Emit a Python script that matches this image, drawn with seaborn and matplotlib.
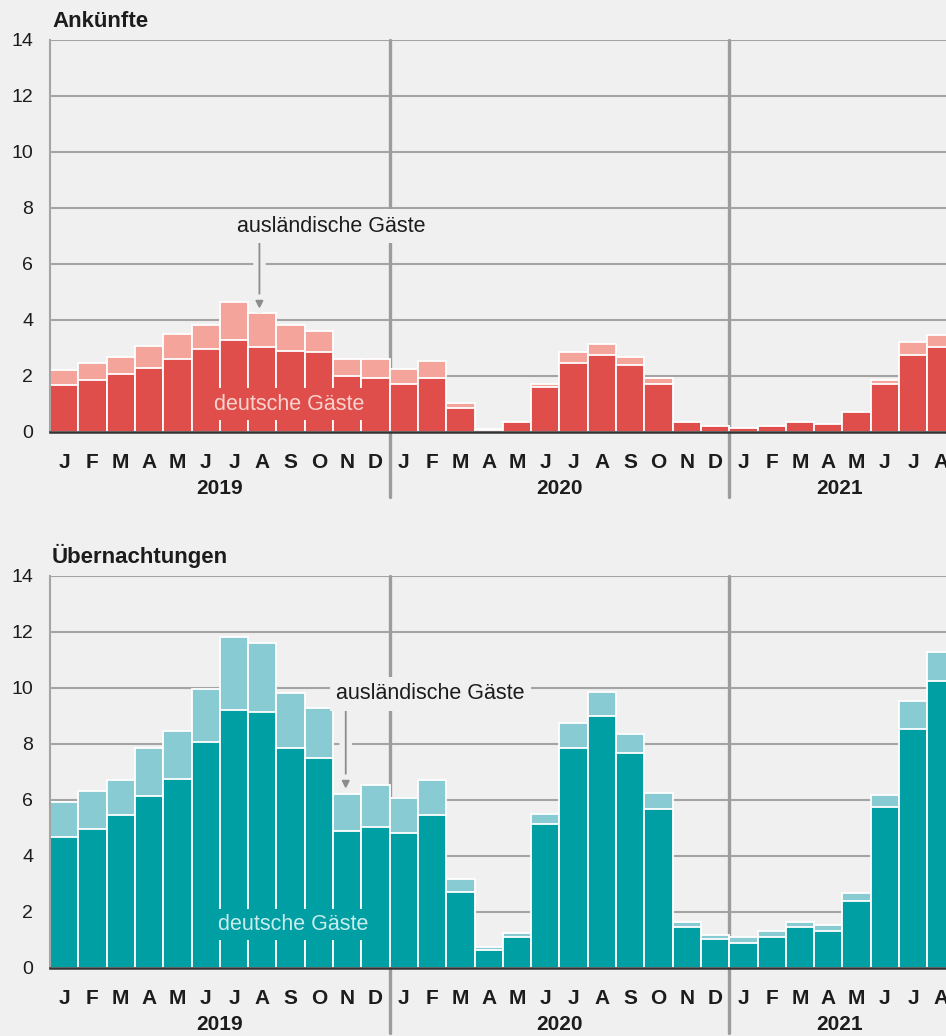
"""
Ankünfte und Übernachtungen 2019-2021, deutsche und ausländische Gäste (Mio.).
"""

import matplotlib.patheffects as pe
import matplotlib.pyplot as plt
import numpy as np
import pandas as pd
import seaborn as sns

MONTHS = list('JFMAMJJASOND') * 2 + list('JFMAMJJA')
YEARS = ['2019', '2020', '2021']

# Ankünfte in Mio.
ARR_DE = [1.67, 1.87, 2.07, 2.28, 2.61, 2.96, 3.29, 3.02, 2.88, 2.84, 2.00, 1.93,
          1.72, 1.93, 0.85, 0.06, 0.35, 1.59, 2.47, 2.74, 2.40, 1.72, 0.34, 0.20,
          0.15, 0.21, 0.35, 0.28, 0.70, 1.72, 2.74, 3.02]
ARR_TOTAL = [2.20, 2.47, 2.67, 3.08, 3.49, 3.82, 4.64, 4.24, 3.82, 3.62, 2.60, 2.60,
             2.26, 2.53, 1.05, 0.09, 0.36, 1.72, 2.87, 3.15, 2.67, 1.92, 0.36, 0.22,
             0.16, 0.22, 0.36, 0.29, 0.71, 1.86, 3.22, 3.48]

# Übernachtungen in Mio.
NIGHT_DE = [4.69, 4.98, 5.45, 6.13, 6.75, 8.06, 9.22, 9.14, 7.86, 7.51, 4.90, 5.04,
            4.82, 5.45, 2.71, 0.63, 1.10, 5.15, 7.84, 9.00, 7.68, 5.69, 1.45, 1.05,
            0.91, 1.10, 1.45, 1.32, 2.41, 5.76, 8.52, 10.24]
NIGHT_TOTAL = [5.93, 6.33, 6.73, 7.85, 8.46, 9.96, 11.81, 11.60, 9.83, 9.28, 6.20, 6.53,
               6.06, 6.73, 3.18, 0.75, 1.25, 5.49, 8.76, 9.87, 8.36, 6.24, 1.65, 1.18,
               1.10, 1.31, 1.65, 1.52, 2.67, 6.18, 9.52, 11.30]

BG = '#f0f0f0'
GRID = '#a4a4a4'
DIVIDER = '#9c9c9c'
TEXT = '#1c1c1c'


def draw_panel(ax, de, total, dark, light, inner_color,
               de_pos, foreign_pos, arrow_x, arrow_from, arrow_to):
    """Stacked bars (total behind, domestic in front) plus labels."""
    df = pd.DataFrame({'idx': np.arange(len(de)), 'de': de, 'total': total})

    sns.barplot(data=df, x='idx', y='total', color=light, saturation=1,
                width=1.0, edgecolor='white', linewidth=1.3, errorbar=None, ax=ax)
    sns.barplot(data=df, x='idx', y='de', color=dark, saturation=1,
                width=1.0, edgecolor='white', linewidth=1.3, errorbar=None, ax=ax)

    ax.set_facecolor(BG)
    ax.set_xlim(-0.5, 31.16)
    ax.set_ylim(0, 14)
    ax.set_yticks(range(0, 15, 2))
    ax.yaxis.grid(True, color=GRID, lw=1.5)
    ax.xaxis.grid(False)
    ax.set_axisbelow(True)
    ax.set_xlabel('')
    ax.set_ylabel('')

    for side in ['top', 'right']:
        ax.spines[side].set_visible(False)
    ax.spines['left'].set_color(GRID)
    ax.spines['left'].set_linewidth(1.5)
    ax.spines['bottom'].set_color('#333333')
    ax.spines['bottom'].set_linewidth(1.8)
    ax.spines['bottom'].set_zorder(3)

    ax.tick_params(axis='y', length=7, width=1.5, color=GRID, pad=5,
                   labelsize=14, labelcolor=TEXT)
    ax.set_xticks(range(len(MONTHS)))
    ax.set_xticklabels(MONTHS, fontweight='bold', fontsize=15, color=TEXT)
    ax.tick_params(axis='x', length=0, pad=15)

    # year dividers reach down below the month letters
    for x in [11.5, 23.5]:
        ax.axvline(x, ymin=-0.165, ymax=1, color=DIVIDER, lw=2.4,
                   clip_on=False, zorder=0.8)

    for year, xc in zip(YEARS, [5.5, 17.5, 27.4]):
        ax.annotate(year, xy=(xc, 0), xycoords=('data', 'axes fraction'),
                    xytext=(0, -34), textcoords='offset points',
                    ha='center', va='top', fontsize=15, fontweight='bold',
                    color=TEXT)

    ax.text(de_pos[0], de_pos[1], 'deutsche Gäste', ha='center', va='center',
            fontsize=15.5, color=inner_color, zorder=6,
            bbox=dict(boxstyle='square,pad=0.25', fc=dark, ec='none'))
    ax.text(foreign_pos[0], foreign_pos[1], 'ausländische Gäste', ha='center',
            va='center', fontsize=15.5, color=TEXT, zorder=6,
            bbox=dict(boxstyle='square,pad=0.3', fc=BG, ec='none'))

    arrow = ax.annotate('', xy=(arrow_x, arrow_to), xytext=(arrow_x, arrow_from),
                        arrowprops=dict(arrowstyle='-|>', color='#8c8c8c',
                                        lw=1.3, mutation_scale=11,
                                        shrinkA=0, shrinkB=0),
                        zorder=5)
    arrow.arrow_patch.set_path_effects(
        [pe.withStroke(linewidth=9, foreground=BG)])


def main():
    sns.set_style('white', {'axes.facecolor': BG, 'figure.facecolor': BG})
    plt.rcParams['font.family'] = ['Liberation Sans', 'DejaVu Sans']

    fig = plt.figure(figsize=(9.46, 10.36), dpi=100, facecolor=BG)
    w, h = 946, 1036
    ax_top = fig.add_axes([50 / w, (h - 432) / h, 896 / w, 392 / h])
    ax_bot = fig.add_axes([50 / w, (h - 968) / h, 896 / w, 392 / h])

    draw_panel(ax_top, ARR_DE, ARR_TOTAL, '#e04e4b', '#f4a49a', '#f9d4cf',
               de_pos=(7.95, 1.0), foreign_pos=(9.45, 7.35),
               arrow_x=6.9, arrow_from=6.85, arrow_to=4.4)
    draw_panel(ax_bot, NIGHT_DE, NIGHT_TOTAL, '#009fa3', '#89cbd3', '#c9ecec',
               de_pos=(8.1, 1.55), foreign_pos=(12.95, 9.8),
               arrow_x=9.95, arrow_from=9.3, arrow_to=6.4)

    fig.text(52 / w, 1 - 27 / h, 'Ankünfte', fontsize=16, fontweight='bold',
             color=TEXT, va='baseline')
    fig.text(52 / w, 1 - 563 / h, 'Übernachtungen', fontsize=16,
             fontweight='bold', color=TEXT, va='baseline')

    fig.savefig('out.png', dpi=100, facecolor=BG)
    plt.close(fig)


if __name__ == '__main__':
    main()
